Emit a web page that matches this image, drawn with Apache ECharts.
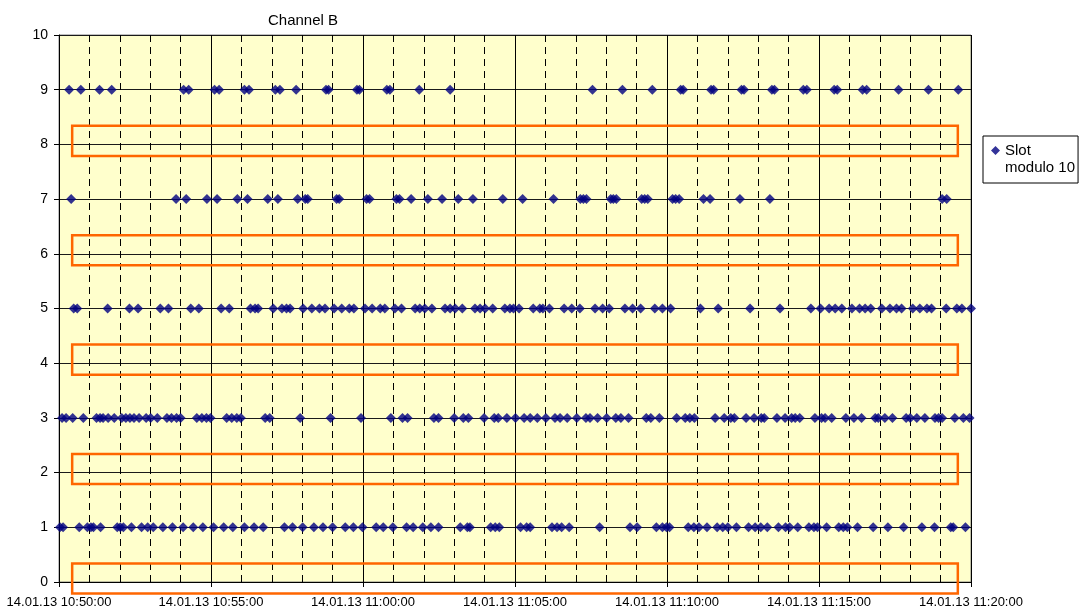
<!DOCTYPE html>
<html>
<head>
<meta charset="utf-8">
<title>Channel B</title>
<script src="https://cdn.jsdelivr.net/npm/echarts@6/dist/echarts.min.js"></script>
<style>
  html, body { margin: 0; padding: 0; background: #ffffff; }
  #chart { width: 1080px; height: 608px; }
</style>
</head>
<body>
<div id="chart"></div>
<script>
// Receive times, in seconds after 14.01.13 10:50:00, grouped by slot (modulo 10).
const slot1Secs = [2, 8, 40, 56, 63, 68, 82, 115, 121, 127, 143, 163, 175, 186, 205, 224, 245, 265, 284, 305,
  325, 343, 366, 385, 403, 445, 461, 481, 503, 521, 540, 565, 581, 599, 626, 640, 659, 686, 699, 718,
  734, 749, 792, 806, 811, 852, 861, 869, 911, 923, 930, 973, 983, 992, 1007, 1067, 1127, 1141, 1179,
  1191, 1199, 1205, 1242, 1253, 1263, 1279, 1299, 1310, 1320, 1337, 1361, 1374, 1385, 1398, 1420, 1434,
  1442, 1458, 1480, 1490, 1497, 1515, 1539, 1548, 1556, 1576, 1607, 1636, 1667, 1703, 1728, 1760, 1765, 1789];

const slot3Secs = [6, 14, 27, 48, 74, 81, 87, 97, 109, 124, 132, 140, 148, 158, 172, 181, 194, 213, 222, 232,
  240, 272, 282, 291, 299, 331, 341, 351, 359, 407, 416, 476, 536, 596, 655, 678, 688, 740, 749, 780,
  798, 808, 839, 859, 867, 884, 901, 918, 930, 944, 961, 979, 989, 1003, 1022, 1040, 1048, 1063, 1081,
  1099, 1109, 1124, 1159, 1168, 1185, 1219, 1236, 1245, 1254, 1295, 1313, 1326, 1333, 1356, 1372, 1386,
  1392, 1417, 1433, 1446, 1453, 1462, 1492, 1505, 1512, 1525, 1553, 1569, 1584, 1611, 1617, 1630, 1645,
  1672, 1680, 1693, 1709, 1729, 1736, 1743, 1768, 1785, 1797];

const slot5Secs = [29, 36, 96, 139, 156, 200, 216, 260, 276, 320, 336, 378, 387, 393, 423, 440, 449, 456, 482,
  499, 514, 525, 543, 558, 573, 582, 604, 618, 634, 643, 663, 676, 703, 712, 722, 736, 762, 772, 782,
  796, 821, 831, 841, 856, 880, 890, 897, 908, 936, 949, 955, 968, 997, 1012, 1028, 1058, 1073, 1086,
  1117, 1132, 1148, 1176, 1191, 1207, 1266, 1301, 1364, 1423, 1484, 1503, 1520, 1532, 1545, 1565, 1580,
  1591, 1602, 1624, 1640, 1653, 1663, 1685, 1699, 1713, 1722, 1751, 1772, 1782, 1800];

const slot7Secs = [24, 231, 251, 292, 312, 352, 372, 412, 432, 471, 486, 491, 548, 553, 607, 613, 666, 672, 695,
  728, 756, 788, 817, 876, 915, 976, 1029, 1035, 1041, 1089, 1094, 1100, 1150, 1156, 1162, 1211, 1217,
  1224, 1272, 1285, 1344, 1403, 1743, 1752];

const slot9Secs = [20, 43, 80, 104, 246, 256, 307, 316, 366, 375, 427, 436, 468, 527, 532, 588, 593, 647, 653,
  711, 772, 1053, 1112, 1171, 1227, 1232, 1287, 1292, 1347, 1352, 1407, 1412, 1469, 1476, 1530, 1536,
  1586, 1594, 1657, 1716, 1775];

// Highlighted (empty) even slots, with the span of each outlined band
const bandSlots = [0, 2, 4, 6, 8];
const bandStartSec = 26;
const bandEndSec = 1774;
const bandBelow = 0.21;
const bandAbove = 0.34;

// Axis settings
const startLabel = { date: '14.01.13', hour: 10, minute: 50 };
const xMaxSec = 1800;
const xMajorSec = 300;
const yTicks = [0, 1, 2, 3, 4, 5, 6, 7, 8, 9, 10];

const slotPoints = []
  .concat(slot1Secs.map(s => [s, 1]))
  .concat(slot3Secs.map(s => [s, 3]))
  .concat(slot5Secs.map(s => [s, 5]))
  .concat(slot7Secs.map(s => [s, 7]))
  .concat(slot9Secs.map(s => [s, 9]));

const bandData = bandSlots.map(v => [bandStartSec, bandEndSec, v - bandBelow, v + bandAbove]);

function pad2(n) { return (n < 10 ? '0' : '') + n; }
function timeLabel(sec) {
  const total = startLabel.hour * 3600 + startLabel.minute * 60 + sec;
  const h = Math.floor(total / 3600);
  const m = Math.floor((total % 3600) / 60);
  const s = total % 60;
  return startLabel.date + ' ' + pad2(h) + ':' + pad2(m) + ':' + pad2(s);
}

// Legend marker: a diamond at the top of a taller box (a tiny point marks the
// bottom), so it lines up with the first line of the two-line legend text.
const legendIcon = 'path://M4.5,0L9,4.5L4.5,9L0,4.5Z M4.5,26L4.51,26L4.5,25.99Z';

const font = 'Arial, "Liberation Sans", sans-serif';
const chart = echarts.init(document.getElementById('chart'), null, { renderer: 'canvas' });

chart.setOption({
  animation: false,
  backgroundColor: '#ffffff',
  title: {
    text: 'Channel B',
    left: 263,
    top: 8,
    textStyle: { fontFamily: font, fontSize: 15, fontWeight: 'normal', color: '#000000' }
  },
  legend: {
    left: 983,
    top: 136,
    orient: 'vertical',
    padding: [6, 3, 7, 8],
    backgroundColor: '#ffffff',
    borderColor: '#000000',
    borderWidth: 1,
    borderRadius: 0,
    itemWidth: 9,
    itemHeight: 26,
    itemGap: 4,
    icon: legendIcon,
    formatter: () => 'Slot\nmodulo 10',
    textStyle: { fontFamily: font, fontSize: 15, lineHeight: 17, color: '#000000', padding: [0, 0, 0, 0] },
    data: ['Slot modulo 10']
  },
  grid: {
    left: 59,
    top: 35,
    width: 912,
    height: 547,
    containLabel: false,
    outerBoundsMode: 'none',
    show: true,
    backgroundColor: '#ffffcc',
    borderColor: '#808080',
    borderWidth: 1
  },
  xAxis: {
    type: 'value',
    min: 0,
    max: xMaxSec,
    interval: xMajorSec,
    axisLine: { show: true, onZero: false, lineStyle: { color: '#000000', width: 1 } },
    axisTick: { show: true, inside: false, length: 5, lineStyle: { color: '#000000' } },
    axisLabel: {
      margin: 14,
      fontFamily: font,
      fontSize: 13,
      color: '#000000',
      formatter: v => timeLabel(v)
    },
    splitLine: { show: true, lineStyle: { color: '#000000', width: 1, type: 'solid' } },
    minorTick: { show: false, splitNumber: 5 },
    minorSplitLine: { show: true, lineStyle: { color: '#000000', width: 1, type: [7, 5] } }
  },
  yAxis: {
    type: 'value',
    min: yTicks[0],
    max: yTicks[yTicks.length - 1],
    interval: 1,
    axisLine: { show: true, lineStyle: { color: '#000000', width: 1 } },
    axisTick: { show: true, inside: false, length: 5, lineStyle: { color: '#000000' } },
    axisLabel: { margin: 11, fontFamily: font, fontSize: 14, color: '#000000' },
    splitLine: { show: true, lineStyle: { color: '#1a1a1a', width: 1 } }
  },
  series: [
    {
      name: 'Empty slots',
      type: 'custom',
      clip: false,
      silent: true,
      z: 3,
      encode: { x: [0, 1], y: [2, 3] },
      data: bandData,
      renderItem: function (params, api) {
        const tl = api.coord([api.value(0), api.value(3)]);
        const br = api.coord([api.value(1), api.value(2)]);
        return {
          type: 'rect',
          shape: { x: tl[0], y: tl[1], width: br[0] - tl[0], height: br[1] - tl[1] },
          style: { fill: null, stroke: '#ff6600', lineWidth: 2.5 }
        };
      }
    },
    {
      name: 'Slot modulo 10',
      type: 'scatter',
      z: 5,
      clip: false,
      symbol: 'diamond',
      symbolSize: [10, 10],
      itemStyle: { color: '#000080' },
      data: slotPoints
    }
  ]
});
</script>
</body>
</html>
